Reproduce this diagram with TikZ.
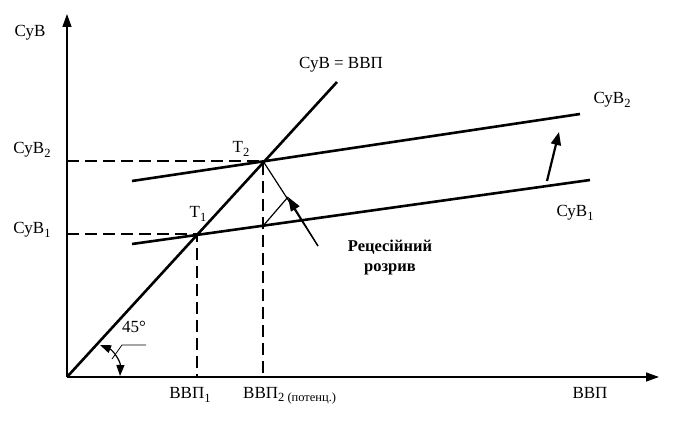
\documentclass[tikz,border=0pt]{standalone}
\usepackage{fontspec}
\setmainfont{Liberation Serif}
\usetikzlibrary{arrows.meta}
\newcommand{\lo}[1]{\raisebox{-.45ex}{\fontsize{12.5}{13}\selectfont #1}}
\begin{document}
\begin{tikzpicture}[
  x = 1pt, y = -1pt,
  every node/.style = {font=\fontsize{17}{20}\selectfont, inner sep=0pt},
  axis/.style = {line width=1.4pt, -{Triangle[length=13pt,width=9pt]}},
  curve/.style = {line width=2.6pt},
  guide/.style = {line width=2.2pt, dash pattern=on 12pt off 6pt},
  pointer/.style = {line width=1.2pt}
  ]
  \useasboundingbox (0,0) rectangle (674,422);
  \coordinate (O) at (67,377);
  \coordinate (ytop) at (67,14);
  \coordinate (xend) at (659,377);
  \coordinate (T1) at (197,234);
  \coordinate (T2) at (263,161);
  \coordinate (diag) at (337,82);
  \coordinate (a1) at (132,244);
  \coordinate (b1) at (590,180);
  \coordinate (a2) at (132,181);
  \coordinate (b2) at (580,114);
  \coordinate (G) at (263,226);
  \coordinate (A) at (288,197);
  \coordinate (E) at (318,246);
  \coordinate (s1) at (547,181);
  \coordinate (s2) at (559,132);
  \draw[axis] (O) -- (ytop);
  \draw[axis] (O) -- (xend);
  \draw[curve] (O) -- (diag);
  \draw[curve] (a1) -- (b1);
  \draw[curve] (a2) -- (b2);
  \draw[guide] (O |- T1) -- (T1) -- (T1 |- O);
  \draw[guide] (O |- T2) -- (T2) -- (T2 |- O);
  \draw[pointer] (T2) -- (E);
  \draw[pointer, -{Triangle[length=14pt,width=10pt]}] (E) -- (A);
  \draw[pointer] (G) -- (A);
  \draw[line width=2.2pt, -{Triangle[length=13pt,width=10pt]}] (s1) -- (s2);
  \draw[pointer, {Triangle[length=11pt,width=8pt]}-{Triangle[length=11pt,width=8pt]}]
    (100,345) to[bend left=35] (120,376);
  \draw[line width=0.8pt] (112,359) -- (122,345) -- (146,345);
  \node (lsyv) at (30,33) {СуВ};
  \node (lsyv2) at (32,150) {СуВ\lo{2}};
  \node (lsyv1) at (32,230) {СуВ\lo{1}};
  \node (leq) at (341,65) {СуВ = ВВП};
  \node (lt2) at (241,149) {Т\lo{2}};
  \node (lt1) at (198,214) {Т\lo{1}};
  \node (rsyv2) at (612,100) {СуВ\lo{2}};
  \node (rsyv1) at (575,213) {СуВ\lo{1}};
  \node (deg) at (134,327) {45°};
  \node (lvvp1) at (190,395) {ВВП\lo{1}};
  \node[anchor=west] (lvvp2) at (243,396) {ВВП\lo{2 (потенц.)}};
  \node (lvvp) at (590,393) {ВВП};
  \node[font=\fontsize{16.5}{20}\selectfont\bfseries, align=center] (gap) at (390,258)
    {Рецесійний\\розрив};
\end{tikzpicture}
\end{document}
